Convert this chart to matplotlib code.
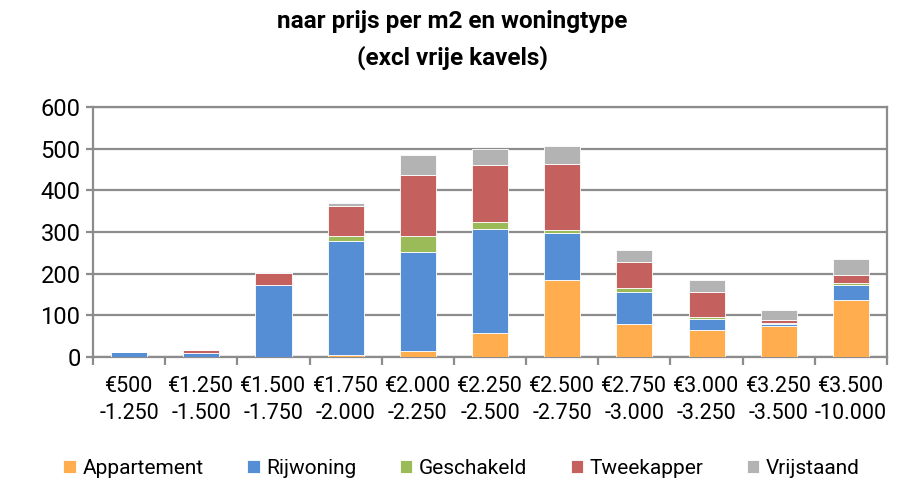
import numpy as np
import matplotlib.pyplot as plt

plt.rcParams['font.family'] = ['Roboto', 'DejaVu Sans']

# categorieen (prijs per m2)
categorieen = ["€500\n-1.250", "€1.250\n-1.500", "€1.500\n-1.750", "€1.750\n-2.000",
               "€2.000\n-2.250", "€2.250\n-2.500", "€2.500\n-2.750", "€2.750\n-3.000",
               "€3.000\n-3.250", "€3.250\n-3.500", "€3.500\n-10.000"]

appartement = [0, 1, 0, 5, 14, 58, 185, 80, 64, 75, 136]
rijwoning = [13, 9, 172, 274, 239, 250, 113, 76, 28, 5, 38]
geschakeld = [0, 0, 0, 11, 38, 16, 8, 9, 4, 1, 4]
tweekapper = [0, 6, 30, 73, 147, 136, 158, 63, 60, 8, 18]
vrijstaand = [0, 0, 1, 6, 46, 40, 43, 30, 30, 23, 40]

series = [("Appartement", appartement, "#FFAD4F"),
          ("Rijwoning", rijwoning, "#558ED5"),
          ("Geschakeld", geschakeld, "#9BBB59"),
          ("Tweekapper", tweekapper, "#C4605E"),
          ("Vrijstaand", vrijstaand, "#B3B3B3")]

fig = plt.figure(figsize=(9.05, 4.82), dpi=100)
ax = fig.add_axes([93/905, 1-357/482, 794/905, 250/482])

x = np.arange(len(categorieen))
bottom = np.zeros(len(categorieen))
for naam, waarden, kleur in series:
    ax.bar(x, waarden, 0.5, bottom=bottom, color=kleur, label=naam,
           edgecolor='white', linewidth=0.6, zorder=3)
    bottom += np.array(waarden)

ax.set_ylim(0, 600)
ax.set_xlim(-0.5, len(categorieen) - 0.5)
ax.set_yticks(range(0, 601, 100))
ax.grid(axis='y', color='#8C8C8C', linewidth=1.6, zorder=0)
for s in ax.spines.values():
    s.set_color('#8C8C8C')
    s.set_linewidth(1.6)

ax.set_xticks(x)
ax.set_xticklabels(categorieen, fontsize=15.5, linespacing=1.35)
ax.set_xticks(np.arange(-0.5, len(categorieen)), minor=True)
ax.tick_params(axis='x', which='major', length=0, pad=14)
ax.tick_params(axis='x', which='minor', length=6, width=1.6, color='#8C8C8C')
ax.tick_params(axis='y', labelsize=17, length=5, width=1.6, color='#8C8C8C', pad=4)

fig.suptitle("naar prijs per m2 en woningtype\n(excl vrije kavels)", fontsize=17.5,
             fontweight='bold', y=0.98, linespacing=1.7)

fig.legend(loc='lower center', ncol=5, frameon=False, fontsize=15,
           handlelength=0.6, handleheight=0.6, columnspacing=2.1, handletextpad=0.3,
           bbox_to_anchor=(0.51, -0.03))

fig.savefig("out.png", dpi=100)
